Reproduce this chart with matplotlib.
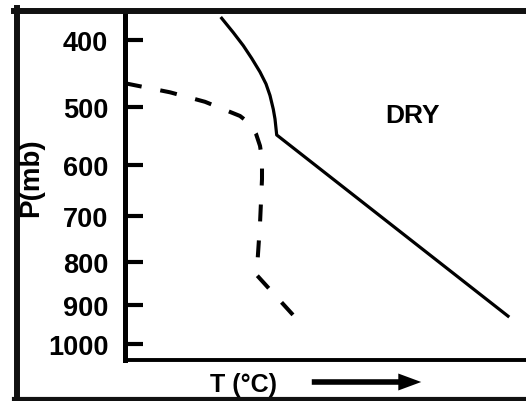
import numpy as np
import matplotlib
matplotlib.use("Agg")
import matplotlib.pyplot as plt
from matplotlib.lines import Line2D
from matplotlib.patches import FancyArrowPatch

# ---- data ----
# environmental temperature profile (solid)
temp_T = [9.67, 10.83, 11.83, 12.67, 13.5, 14.1, 14.5, 14.83, 15.0, 15.17, 38.3]
temp_P = [371, 390, 408, 426, 446, 464, 482, 504, 520, 547, 928]
# dew point profile (dashed)
dew_T = [0.0, 4.5, 8.0, 11.5, 12.5, 13.1, 13.5, 13.7, 13.7, 13.5, 13.2, 13.1, 16.8]
dew_P = [463, 477, 492, 515, 528, 545, 566, 589, 627, 716, 815, 827, 925]
p_ticks = [400, 500, 600, 700, 800, 900, 1000]
p_tick_labels = ["400", "500", "600", "700", "800", "900", "1000"]
region_label = "DRY"

FONT = "Liberation Sans"
W, H = 526, 402
fig = plt.figure(figsize=(W / 100, H / 100), dpi=100)
ax = fig.add_axes([125 / W, 1 - 361 / H, 1 - 125 / W, (361 - 12) / H])

kappa = 0.286
ax.set_yscale("function", functions=(lambda p: np.power(np.abs(p), kappa),
                                     lambda f: np.power(np.abs(f), 1 / kappa)))
ax.set_ylim(1043, 361.6)
ax.set_xlim(0, 40.1)

ax.plot(temp_T, temp_P, color="black", lw=2.3, solid_joinstyle="round")
lw_d = 2.9
ax.plot(dew_T, dew_P, color="black", lw=lw_d,
        linestyle=(0, (12.2 / lw_d, 13.7 / lw_d)), dash_capstyle="butt")

ax.text(28.8, 513, region_label, ha="center", va="center",
        fontsize=19, fontweight="bold", family=FONT)

ax.set_yticks(p_ticks)
ax.set_yticklabels(p_tick_labels)
ax.yaxis.set_minor_locator(matplotlib.ticker.NullLocator())
ax.tick_params(axis="y", direction="in", length=13, width=3, pad=12,
               labelsize=19.5)
for lab in ax.get_yticklabels():
    lab.set_fontweight("bold")
    lab.set_family(FONT)
ax.set_xticks([])

for s in ["top", "right"]:
    ax.spines[s].set_visible(False)
ax.spines["left"].set_linewidth(3.6)
ax.spines["bottom"].set_linewidth(2.8)

# outer frame
fig.add_artist(Line2D([17 / W, 17 / W], [1 - 9 / H, 1 - 400 / H], color="#111111",
                      lw=4.3, transform=fig.transFigure))
fig.add_artist(Line2D([14 / W, 1.02], [1 - 12 / H, 1 - 12 / H], color="#111111",
                      lw=4.3, transform=fig.transFigure))
fig.add_artist(Line2D([14 / W, 1.02], [1 - 400 / H, 1 - 400 / H], color="#111111",
                      lw=3.0, transform=fig.transFigure))

fig.text(31 / W, 1 - 178 / H, "P(mb)", rotation=90, ha="center", va="center",
         fontsize=20, fontweight="bold", family=FONT)
fig.text(244 / W, 1 - 385 / H, "T (°C)", ha="center", va="center",
         fontsize=18, fontweight="bold", family=FONT)

arrow = FancyArrowPatch((309 / W, 1 - 383 / H), (424 / W, 1 - 383 / H),
                        transform=fig.transFigure,
                        arrowstyle="simple,head_length=16.5,head_width=12.2,tail_width=4",
                        mutation_scale=1, color="black", lw=0)
fig.add_artist(arrow)

fig.savefig("out.png", dpi=100)
